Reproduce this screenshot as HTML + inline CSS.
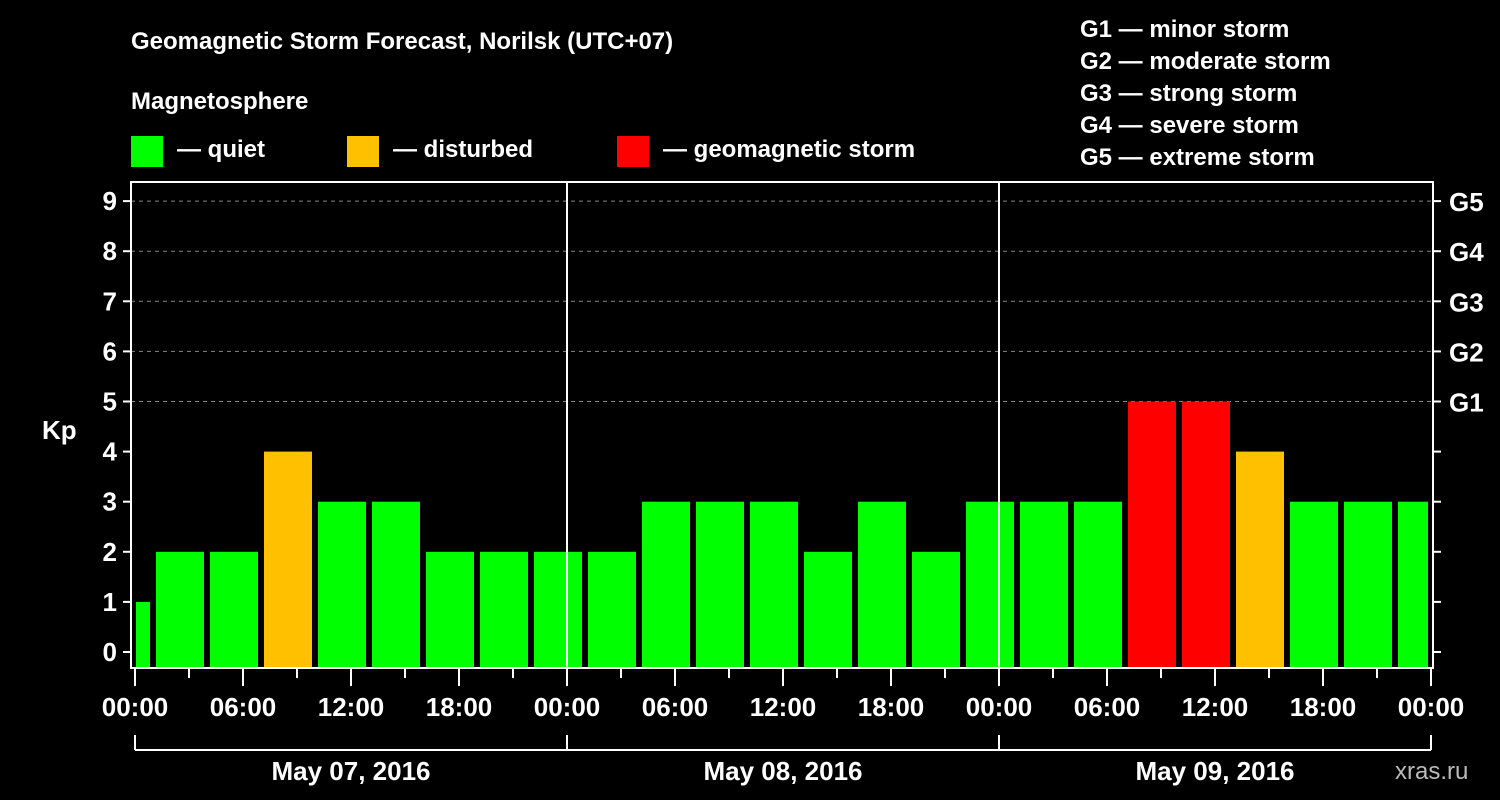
<!DOCTYPE html>
<html><head><meta charset="utf-8"><style>
html,body{margin:0;padding:0;background:#000;}
svg{display:block;font-family:"Liberation Sans",Arial,sans-serif;font-weight:bold;}
</style></head><body>
<svg id="chart" width="1500" height="800" viewBox="0 0 1500 800">
<rect width="1500" height="800" fill="#000"/>
<text x="131" y="49" fill="#fff" font-size="24">Geomagnetic Storm Forecast, Norilsk (UTC+07)</text>
<text x="131" y="109" fill="#fff" font-size="24">Magnetosphere</text>
<g><rect x="131" y="136" width="32" height="31" fill="#00ff00"/><text x="177" y="157" fill="#fff" font-size="24">— quiet</text></g>
<g><rect x="347" y="136" width="32" height="31" fill="#ffc000"/><text x="393" y="157" fill="#fff" font-size="24">— disturbed</text></g>
<g><rect x="617" y="136" width="32" height="31" fill="#ff0000"/><text x="663" y="157" fill="#fff" font-size="24">— geomagnetic storm</text></g>
<g fill="#fff" font-size="24">
<text x="1080" y="37">G1 — minor storm</text>
<text x="1080" y="69">G2 — moderate storm</text>
<text x="1080" y="101">G3 — strong storm</text>
<text x="1080" y="133">G4 — severe storm</text>
<text x="1080" y="165">G5 — extreme storm</text>
</g>
<text x="42" y="439" fill="#fff" font-size="26">Kp</text>
<text x="1395" y="779" fill="#bbb" font-size="24" font-weight="normal">xras.ru</text>
<g id="grid"></g>
<g id="bars"></g>
<g id="axes"></g>
</svg>
<script>
const barStartHours = [-2,1,4,7,10,13,16,19,22,25,28,31,34,37,40,43,46,49,52,55,58,61,64,67,70];
const kpValues = [1,2,2,4,3,3,2,2,2,2,3,3,3,2,3,2,3,3,3,5,5,4,3,3,3];
const yTicks = [0,1,2,3,4,5,6,7,8,9];
const gLabels = ["G1","G2","G3","G4","G5"];
const gLevels = [5,6,7,8,9];
const xTickLabels = ["00:00","06:00","12:00","18:00","00:00","06:00","12:00","18:00","00:00","06:00","12:00","18:00","00:00"];
const dateLabels = ["May 07, 2016","May 08, 2016","May 09, 2016"];

const NS = "http://www.w3.org/2000/svg";
const L = 131, R = 1433, T = 182, B = 668;
const X = h => 135 + h * 18;
const Y = v => 652 - v * 50.1;
function mk(tag, attrs, parent, text){
  const e = document.createElementNS(NS, tag);
  for (const k in attrs) e.setAttribute(k, attrs[k]);
  if (text !== undefined) e.textContent = text;
  parent.appendChild(e); return e;
}
const grid = document.getElementById('grid');
const bars = document.getElementById('bars');
const axes = document.getElementById('axes');

// gridlines
yTicks.forEach(v => {
  if (v >= 5) {
    const g = mk('line', {x1:L, x2:R, y1:Y(v), y2:Y(v), stroke:'#888', 'stroke-dasharray':'4,4', 'stroke-width':1}, grid);
    
    
  }
});
// bars
barStartHours.forEach((h, i) => {
  const v = kpValues[i];
  let x1 = Math.max(X(h) + 3, 136), x2 = Math.min(X(h + 3) - 3, 1428);
  const col = v >= 5 ? '#ff0000' : (v === 4 ? '#ffc000' : '#00ff00');
  const r = mk('rect', {x:x1, y:Y(v), width:x2 - x1, height:B - Y(v), fill:col}, bars);
  
  
});
// day separators
[24,48].forEach(h => {
  const l = mk('line', {x1:X(h), x2:X(h), y1:T, y2:B, stroke:'#fff', 'stroke-width':2}, axes);
  
  
});
// frame
const fr = mk('rect', {x:L, y:T, width:R - L, height:B - T, fill:'none', stroke:'#fff', 'stroke-width':2}, axes);


// y ticks
yTicks.forEach(v => {
  mk('line', {x1:123, x2:L, y1:Y(v), y2:Y(v), stroke:'#fff', 'stroke-width':2}, axes);
  mk('line', {x1:R, x2:1441, y1:Y(v), y2:Y(v), stroke:'#fff', 'stroke-width':2}, axes);
  const t = mk('text', {x:117, y:Y(v) + 9, fill:'#fff', 'font-size':26, 'text-anchor':'end'}, axes, String(v));
  
  
});
gLevels.forEach((v, i) => {
  const t = mk('text', {x:1449, y:Y(v) + 10, fill:'#fff', 'font-size':26}, axes, gLabels[i]);
  
  
});
// x ticks
for (let h = 0; h <= 72; h += 3) {
  const major = h % 6 === 0;
  mk('line', {x1:X(h), x2:X(h), y1:B, y2:major ? 686 : 678, stroke:'#fff', 'stroke-width':2}, axes);
}
xTickLabels.forEach((s, i) => {
  const t = mk('text', {x:X(i * 6), y:716, fill:'#fff', 'font-size':26, 'text-anchor':'middle'}, axes, s);
  
  
});
// date brackets
mk('line', {x1:X(0), x2:X(72), y1:750, y2:750, stroke:'#fff', 'stroke-width':2}, axes);
[0,24,48,72].forEach(h => mk('line', {x1:X(h), x2:X(h), y1:735, y2:750, stroke:'#fff', 'stroke-width':2}, axes));
dateLabels.forEach((s, i) => {
  const t = mk('text', {x:X(i * 24 + 12), y:780, fill:'#fff', 'font-size':26, 'text-anchor':'middle'}, axes, s);
  
  
});
</script>
</body></html>
